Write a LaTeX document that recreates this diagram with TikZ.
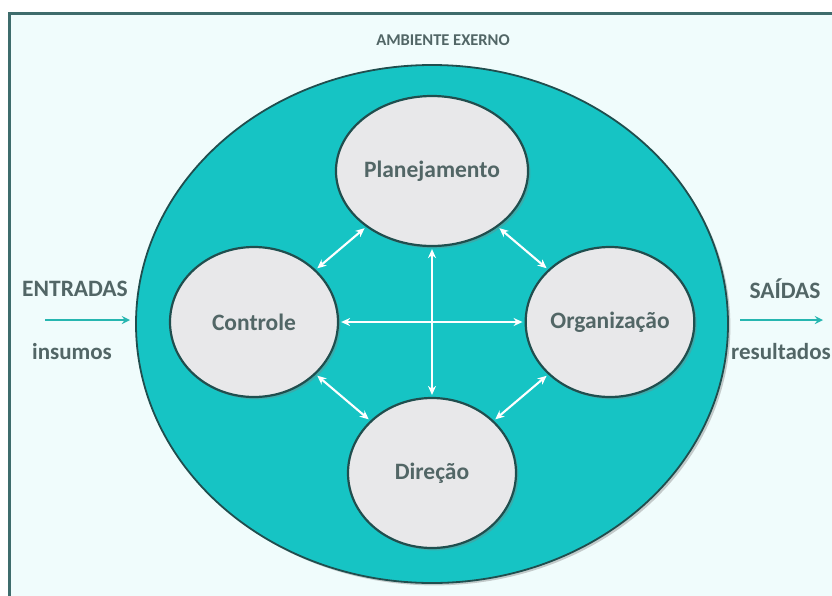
\documentclass[tikz,border=0pt]{standalone}
\usepackage{fontspec}
\setmainfont{Carlito}
\usetikzlibrary{arrows,arrows.meta,positioning,shapes.geometric,shadows}
\definecolor{fundo}{RGB}{240,252,252}
\definecolor{moldura}{RGB}{62,108,108}
\definecolor{turquesa}{RGB}{22,196,196}
\definecolor{bordaesc}{RGB}{32,78,78}
\definecolor{cinza}{RGB}{232,232,234}
\definecolor{texto}{RGB}{82,102,102}
\definecolor{seta}{RGB}{38,182,176}
\tikzset{node distance=151pt, auto}
\tikzset{funcao/.style={ellipse, draw=bordaesc, line width=2.2pt, fill=cinza,
    minimum width=168pt, minimum height=150pt, inner sep=0pt, text=texto,
    font=\fontsize{23.5}{26}\selectfont\bfseries, drop shadow={opacity=0.35}},
  rotulo/.style={text=texto, font=\fontsize{23.5}{26}\selectfont\bfseries},
  ligacao/.style={white, line width=2.1pt, {Stealth[length=9pt,width=8pt]}-{Stealth[length=9pt,width=8pt]},
    shorten >=2pt, shorten <=2pt}}

\begin{document}
\begin{tikzpicture}[x=1pt, y=-1pt]
			\useasboundingbox (0,0) rectangle (832,595);
			\fill[white] (0,0) rectangle (832,595);
			\draw[moldura, line width=3pt, fill=fundo] (9,13) rectangle (860,620);
			%
			\node (titulo) [rotulo, font=\fontsize{16.5}{19}\selectfont\bfseries] at (443,40) {AMBIENTE EXERNO};
			\node (amb) [ellipse, fill=turquesa, draw=bordaesc, line width=1.8pt,
				minimum width=592pt, minimum height=518pt, drop shadow={opacity=0.4}] at (432,324) {};
			%
			\coordinate (hub) at (432,322);
			\node (plan) [funcao, above of=hub]									{Planejamento};
			\node (dir)  [funcao, below of=hub]									{Direção};
			\node (ctrl) [funcao, left of=hub, node distance=178pt]	{Controle};
			\node (org)  [funcao, right of=hub, node distance=178pt]	{Organização};
			%
			\draw[ligacao]		(plan)	to (dir);
			\draw[ligacao]		(ctrl)	to (org);
			\draw[ligacao]		(ctrl)	to (plan);
			\draw[ligacao]		(plan)	to (org);
			\draw[ligacao]		(ctrl)	to (dir);
			\draw[ligacao]		(dir)		to (org);
			%
			\node (entradas) [rotulo] at (75,289)	{ENTRADAS};
			\node (insumos)  [rotulo, font=\fontsize{23}{26}\selectfont\bfseries] at (72,352) {insumos};
			\node (saidas)   [rotulo] at (785,289)	{SAÍDAS};
			\node (result)   [rotulo, font=\fontsize{23}{26}\selectfont\bfseries] at (781,352) {resultados};
			\coordinate (e0) at (45,320);
			\coordinate (e1) at (130,320);
			\coordinate (s0) at (740,320);
			\coordinate (s1) at (823,320);
			\draw[-stealth, seta, line width=2.6pt]	(e0)	to (e1);
			\draw[-stealth, seta, line width=2.6pt]	(s0)	to (s1);
		\end{tikzpicture}
\end{document}
